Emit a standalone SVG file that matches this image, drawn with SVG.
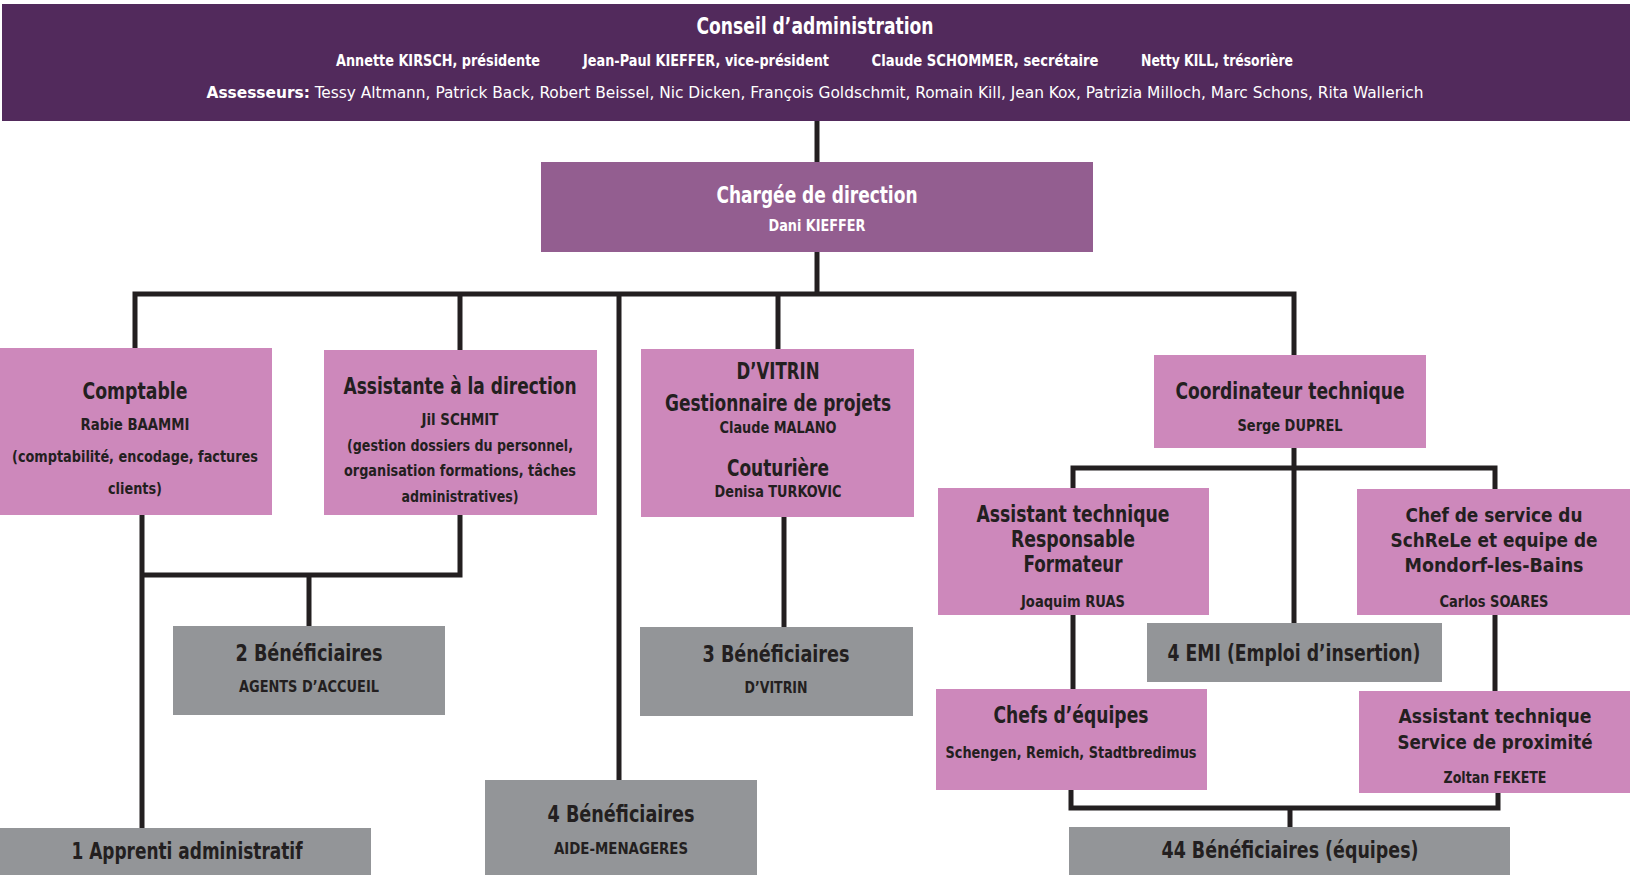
<svg xmlns="http://www.w3.org/2000/svg" width="1630" height="875" viewBox="0 0 1630 875">
<style>
text{font-family:"DejaVu Sans Condensed","Liberation Sans",sans-serif;font-weight:bold;text-anchor:middle;fill:#231f20}
.w{fill:#ffffff}
.pink{fill:#cd88bb}
.gray{fill:#939598}
.t{font-size:23px}
.r{font-size:20px}
.s{font-size:16px}
.b{font-size:16.5px}
.conn{stroke:#231f20;stroke-width:5;fill:none}
</style>
<rect x="0" y="0" width="1630" height="875" fill="#ffffff"/>
<g id="conseil">
<rect x="2" y="4" width="1628" height="117" fill="#522a5c"/>
<text class="w t" x="815" y="34" textLength="237" lengthAdjust="spacingAndGlyphs">Conseil d’administration</text>
<text class="w b" x="438" y="66" textLength="204" lengthAdjust="spacingAndGlyphs">Annette KIRSCH, présidente</text>
<text class="w b" x="706" y="66" textLength="246" lengthAdjust="spacingAndGlyphs">Jean-Paul KIEFFER, vice-président</text>
<text class="w b" x="985" y="66" textLength="227" lengthAdjust="spacingAndGlyphs">Claude SCHOMMER, secrétaire</text>
<text class="w b" x="1217" y="66" textLength="152" lengthAdjust="spacingAndGlyphs">Netty KILL, trésorière</text>
<text class="w b" x="815" y="98" textLength="1217" lengthAdjust="spacingAndGlyphs"><tspan>Assesseurs:</tspan><tspan font-weight="normal"> Tessy Altmann, Patrick Back, Robert Beissel, Nic Dicken, François Goldschmit, Romain Kill, Jean Kox, Patrizia Milloch, Marc Schons, Rita Wallerich</tspan></text>
</g>
<g id="connectors">
<path class="conn" d="M817 121V162"/>
<path class="conn" d="M817 252V294"/>
<path class="conn" d="M135 348V294H1294V355"/>
<path class="conn" d="M460 294V350"/>
<path class="conn" d="M619 294V780"/>
<path class="conn" d="M778 294V349"/>
<path class="conn" d="M142 515V828"/>
<path class="conn" d="M142 575H460V515"/>
<path class="conn" d="M309 575V626"/>
<path class="conn" d="M784 517V627"/>
<path class="conn" d="M1294 448V623"/>
<path class="conn" d="M1073 488V468H1495V489"/>
<path class="conn" d="M1073 615V689"/>
<path class="conn" d="M1495 615V691"/>
<path class="conn" d="M1071 790V808H1498V793"/>
<path class="conn" d="M1290 808V827"/>
</g>
<g id="direction">
<rect x="541" y="162" width="552" height="90" fill="#935e90"/>
<text class="w t" x="817" y="203" textLength="201" lengthAdjust="spacingAndGlyphs">Chargée de direction</text>
<text class="w s" x="817" y="231" textLength="97" lengthAdjust="spacingAndGlyphs">Dani KIEFFER</text>
</g>
<g id="comptable">
<rect class="pink" x="0" y="348" width="272" height="167"/>
<text class="t" x="135" y="399" textLength="105" lengthAdjust="spacingAndGlyphs">Comptable</text>
<text class="s" x="135" y="430" textLength="109" lengthAdjust="spacingAndGlyphs">Rabie BAAMMI</text>
<text class="s" x="135" y="462" textLength="246" lengthAdjust="spacingAndGlyphs">(comptabilité, encodage, factures</text>
<text class="s" x="135" y="494" textLength="54" lengthAdjust="spacingAndGlyphs">clients)</text>
</g>
<g id="assistante">
<rect class="pink" x="324" y="350" width="273" height="165"/>
<text class="t" x="460" y="394" textLength="233" lengthAdjust="spacingAndGlyphs">Assistante à la direction</text>
<text class="s" x="460" y="425" textLength="77" lengthAdjust="spacingAndGlyphs">Jil SCHMIT</text>
<text class="s" x="460" y="451" textLength="226" lengthAdjust="spacingAndGlyphs">(gestion dossiers du personnel,</text>
<text class="s" x="460" y="476" textLength="232" lengthAdjust="spacingAndGlyphs">organisation formations, tâches</text>
<text class="s" x="460" y="502" textLength="117" lengthAdjust="spacingAndGlyphs">administratives)</text>
</g>
<g id="dvitrin">
<rect class="pink" x="641" y="349" width="273" height="168"/>
<text class="t" x="778" y="379" textLength="83" lengthAdjust="spacingAndGlyphs">D’VITRIN</text>
<text class="t" x="778" y="411" textLength="226" lengthAdjust="spacingAndGlyphs">Gestionnaire de projets</text>
<text class="s" x="778" y="433" textLength="117" lengthAdjust="spacingAndGlyphs">Claude MALANO</text>
<text class="t" x="778" y="476" textLength="102" lengthAdjust="spacingAndGlyphs">Couturière</text>
<text class="s" x="778" y="497" textLength="127" lengthAdjust="spacingAndGlyphs">Denisa TURKOVIC</text>
</g>
<g id="coordinateur">
<rect class="pink" x="1154" y="355" width="272" height="93"/>
<text class="t" x="1290" y="399" textLength="229" lengthAdjust="spacingAndGlyphs">Coordinateur technique</text>
<text class="s" x="1290" y="431" textLength="105" lengthAdjust="spacingAndGlyphs">Serge DUPREL</text>
</g>
<g id="benef2">
<rect class="gray" x="173" y="626" width="272" height="89"/>
<text class="t" x="309" y="661" textLength="147" lengthAdjust="spacingAndGlyphs">2 Bénéficiaires</text>
<text class="s" x="309" y="692" textLength="140" lengthAdjust="spacingAndGlyphs">AGENTS D’ACCUEIL</text>
</g>
<g id="benef3">
<rect class="gray" x="640" y="627" width="273" height="89"/>
<text class="t" x="776" y="662" textLength="147" lengthAdjust="spacingAndGlyphs">3 Bénéficiaires</text>
<text class="s" x="776" y="693" textLength="63" lengthAdjust="spacingAndGlyphs">D’VITRIN</text>
</g>
<g id="apprenti">
<rect class="gray" x="0" y="828" width="371" height="47"/>
<text class="t" x="187" y="859" textLength="231" lengthAdjust="spacingAndGlyphs">1 Apprenti administratif</text>
</g>
<g id="benef4">
<rect class="gray" x="485" y="780" width="272" height="95"/>
<text class="t" x="621" y="822" textLength="147" lengthAdjust="spacingAndGlyphs">4 Bénéficiaires</text>
<text class="s" x="621" y="854" textLength="134" lengthAdjust="spacingAndGlyphs">AIDE-MENAGERES</text>
</g>
<g id="asstech">
<rect class="pink" x="938" y="488" width="271" height="127"/>
<text class="t" x="1073" y="522" textLength="193" lengthAdjust="spacingAndGlyphs">Assistant technique</text>
<text class="t" x="1073" y="547" textLength="124" lengthAdjust="spacingAndGlyphs">Responsable</text>
<text class="t" x="1073" y="572" textLength="99" lengthAdjust="spacingAndGlyphs">Formateur</text>
<text class="s" x="1073" y="607" textLength="104" lengthAdjust="spacingAndGlyphs">Joaquim RUAS</text>
</g>
<g id="chefservice">
<rect class="pink" x="1357" y="489" width="273" height="126"/>
<text class="r" x="1494" y="522" textLength="177" lengthAdjust="spacingAndGlyphs">Chef de service du</text>
<text class="r" x="1494" y="547" textLength="207" lengthAdjust="spacingAndGlyphs">SchReLe et equipe de</text>
<text class="r" x="1494" y="572" textLength="179" lengthAdjust="spacingAndGlyphs">Mondorf-les-Bains</text>
<text class="s" x="1494" y="607" textLength="109" lengthAdjust="spacingAndGlyphs">Carlos SOARES</text>
</g>
<g id="emi">
<rect class="gray" x="1147" y="623" width="295" height="59"/>
<text class="t" x="1294" y="661" textLength="253" lengthAdjust="spacingAndGlyphs">4 EMI (Emploi d’insertion)</text>
</g>
<g id="chefsequipes">
<rect class="pink" x="936" y="689" width="271" height="101"/>
<text class="t" x="1071" y="723" textLength="155" lengthAdjust="spacingAndGlyphs">Chefs d’équipes</text>
<text class="s" x="1071" y="758" textLength="251" lengthAdjust="spacingAndGlyphs">Schengen, Remich, Stadtbredimus</text>
</g>
<g id="assprox">
<rect class="pink" x="1359" y="691" width="271" height="102"/>
<text class="r" x="1495" y="723" textLength="193" lengthAdjust="spacingAndGlyphs">Assistant technique</text>
<text class="r" x="1495" y="749" textLength="195" lengthAdjust="spacingAndGlyphs">Service de proximité</text>
<text class="s" x="1495" y="783" textLength="103" lengthAdjust="spacingAndGlyphs">Zoltan FEKETE</text>
</g>
<g id="benef44">
<rect class="gray" x="1069" y="827" width="441" height="48"/>
<text class="t" x="1290" y="858" textLength="257" lengthAdjust="spacingAndGlyphs">44 Bénéficiaires (équipes)</text>
</g>
</svg>
